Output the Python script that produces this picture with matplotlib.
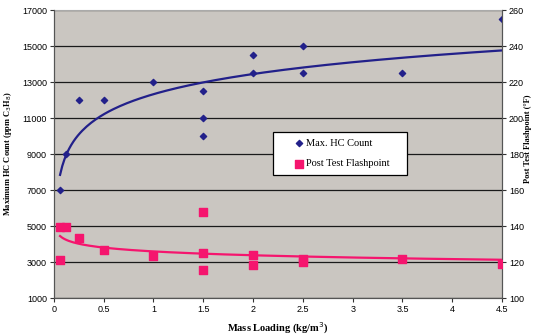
# -*- coding: utf-8 -*-
"""Max HC count and post-test flashpoint vs mass loading, with log trendlines"""
import matplotlib
matplotlib.use('Agg')
import matplotlib.pyplot as plt
import numpy as np

# ---- data ----
hc_x = [0.0625, 0.125, 0.25, 0.5, 1.0, 1.5, 1.5, 1.5, 2.0, 2.0, 2.5, 2.5, 3.5, 4.5]
hc_y = [7000, 9000, 12000, 12000, 13000, 12500, 11000, 10000, 14500, 13500, 15000, 13500, 13500, 16500]

fp_x = [0.0625, 0.125, 0.0625, 0.25, 0.5, 1.0, 1.5, 1.5, 1.5, 2.0, 2.0, 2.5, 2.5, 3.5, 4.5]
fp_y = [139.3, 139.3, 121.2, 133.5, 126.5, 123.6, 148.0, 124.8, 115.7, 123.8, 118.4, 122.0, 120.2, 121.7, 119.0]

x_ticks = [0, 0.5, 1, 1.5, 2, 2.5, 3, 3.5, 4, 4.5]
hc_ticks = [1000, 3000, 5000, 7000, 9000, 11000, 13000, 15000, 17000]
fp_ticks = [100, 120, 140, 160, 180, 200, 220, 240, 260]

hc_color = '#22208a'
fp_color = '#f5156e'
bg_color = '#cac6c1'

serif = ['Liberation Serif', 'DejaVu Serif']
plt.rcParams['font.family'] = ['Liberation Sans', 'DejaVu Sans']

fig = plt.figure(figsize=(5.33, 3.35), dpi=100)
ax = fig.add_axes([0.101, 0.110, 0.841, 0.860])
ax.set_facecolor(bg_color)
ax2 = ax.twinx()

# log trendlines (least squares on ln x)
xs = np.linspace(min(hc_x), max(hc_x), 200)
b1, a1 = np.polyfit(np.log(hc_x), hc_y, 1)
b2, a2 = np.polyfit(np.log(fp_x), fp_y, 1)

ax.set_axisbelow(True)
ax.yaxis.grid(True, color='#1a1a1a', linewidth=0.9)
ax.plot(xs, a1 + b1 * np.log(xs), color=hc_color, linewidth=1.6, zorder=3)
ax.scatter(hc_x, hc_y, marker='D', s=10, color=hc_color, zorder=4,
           label='Max. HC Count')

ax2.plot(xs, a2 + b2 * np.log(xs), color=fp_color, linewidth=1.6, zorder=3)
ax2.scatter(fp_x, fp_y, marker='s', s=26, color=fp_color, zorder=4,
            label='Post Test Flashpoint')

ax.set_xlim(0, 4.5)
ax.set_ylim(1000, 17000)
ax2.set_ylim(100, 260)
ax.set_xticks(x_ticks)
ax.set_xticklabels([f'{v:g}' for v in x_ticks])
ax.set_yticks(hc_ticks)
ax2.set_yticks(fp_ticks)

for a in (ax, ax2):
    a.tick_params(labelsize=6.5, length=3, width=0.8, color='#333333', pad=2)
    for s in a.spines.values():
        s.set_color('#555555')
        s.set_linewidth(0.8)
ax.spines['top'].set_color('#aaaaaa')
ax2.spines['top'].set_visible(False)

ax.set_xlabel('Mass Loading (kg/m$^3$)', fontsize=7.5, fontweight='bold',
              family=serif, labelpad=5)
ax.set_ylabel('Maximum HC Count (ppm C$_3$H$_8$)', fontsize=6, fontweight='bold',
              family=serif, labelpad=6)
ax2.set_ylabel('Post Test Flashpoint (°F)', fontsize=6, fontweight='bold',
               family=serif)
ax2.yaxis.set_label_coords(1.05, 0.555)

h1, l1 = ax.get_legend_handles_labels()
h2, l2 = ax2.get_legend_handles_labels()
leg = ax2.legend(h1 + h2, l1 + l2, loc='upper left',
                 bbox_to_anchor=(0.489, 0.431, 0.299, 0.145), mode='expand',
                 borderaxespad=0, prop={'family': serif, 'size': 7.5}, frameon=True,
                 fancybox=False, shadow=False, handlelength=3.8, handletextpad=-1.2,
                 labelspacing=1.1, borderpad=0.6, markerscale=1.0)
leg.get_frame().set_edgecolor('black')
leg.get_frame().set_linewidth(0.9)
leg.get_frame().set_facecolor('white')
leg.get_frame().set_alpha(1)

plt.savefig('out.png', dpi=100)
plt.close()
